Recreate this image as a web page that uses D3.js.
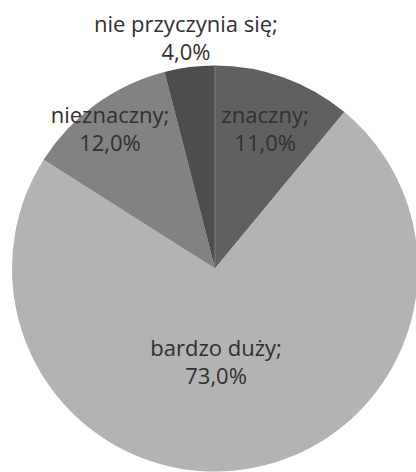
<!DOCTYPE html>
<html>
<head>
<meta charset="utf-8">
<script src="https://cdn.jsdelivr.net/npm/d3@7"></script>
<style>
  html, body { margin: 0; padding: 0; background: #ffffff; }
  svg { display: block; }
  text { font-family: "Open Sans", "Noto Sans", sans-serif; fill: #303030; }
</style>
</head>
<body>
<svg id="chart" width="416" height="472"></svg>
<script>
// ---- data ----
const categories = ["znaczny", "bardzo duży", "nieznaczny", "nie przyczynia się"];
const values = [11.0, 73.0, 12.0, 4.0];
const valueLabels = ["11,0%", "73,0%", "12,0%", "4,0%"];

// ---- styling / layout ----
const colors = ["#606060", "#b3b3b3", "#818281", "#4d4d4d"];
const labelRadiusFactor = [0.729, 0.462, 0.859, 1.142];
const labelAngleShift = [0, 0.146, -0.018, 0];

const width = 416, height = 472;
const cx = 215, cy = 268.5, radius = 203;
const fontSize = 22, lineGap = 28.5;

const svg = d3.select("#chart");
const g = svg.append("g").attr("transform", `translate(${cx},${cy})`);

const pie = d3.pie().sort(null).value(d => d.value);
const data = categories.map((c, i) => ({ name: c, value: values[i], label: valueLabels[i], i }));
const arcs = pie(data);

const arc = d3.arc().innerRadius(0).outerRadius(radius);

g.selectAll("path.slice")
  .data(arcs)
  .enter().append("path")
  .attr("class", "slice")
  .attr("d", arc)
  .attr("fill", d => colors[d.data.i]);

// light separator at top (between last and first slice)
g.append("line")
  .attr("x1", 0).attr("y1", 0)
  .attr("x2", 0).attr("y2", -radius)
  .attr("stroke", "#8a8a8a").attr("stroke-width", 0.8);

const labels = g.selectAll("text.lbl")
  .data(arcs)
  .enter().append("text")
  .attr("class", "lbl")
  .attr("text-anchor", "middle")
  .attr("font-size", fontSize)
  .attr("transform", d => {
    const a = (d.startAngle + d.endAngle) / 2 + labelAngleShift[d.data.i];
    const r = radius * labelRadiusFactor[d.data.i];
    return `translate(${r * Math.sin(a)},${-r * Math.cos(a)})`;
  });

labels.append("tspan")
  .attr("x", 0).attr("dy", -lineGap / 2 + fontSize * 0.35)
  .text(d => d.data.name + ";");
labels.append("tspan")
  .attr("x", 0).attr("dy", lineGap)
  .text(d => d.data.label);
</script>
</body>
</html>
